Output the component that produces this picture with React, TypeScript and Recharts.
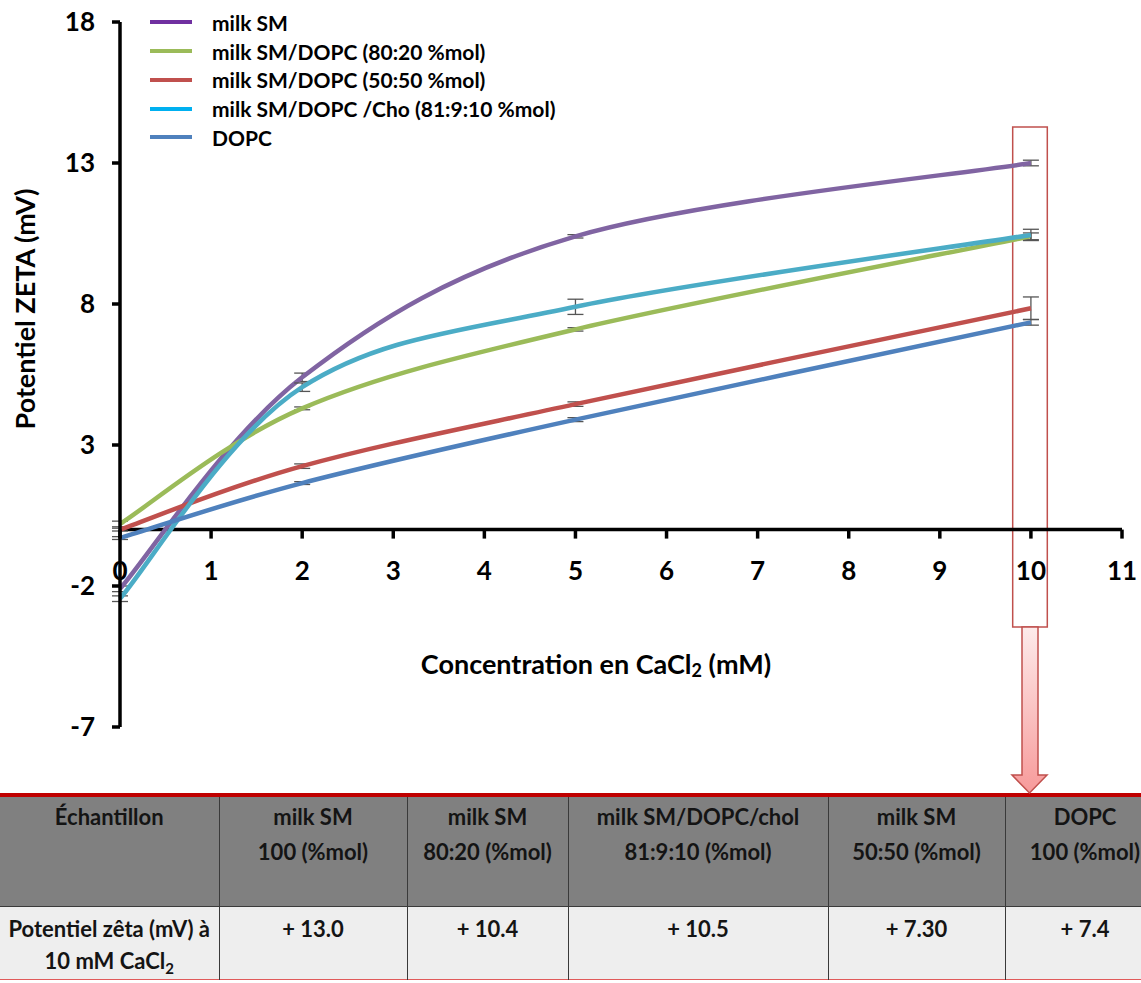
import React from 'react';
import { LineChart, Line, XAxis, YAxis, ErrorBar, ReferenceLine, ReferenceArea, Legend } from 'recharts';

// ---------- data ----------
const concentrations = [0, 2, 5, 10];
const milkSM = [-2.1, 5.4, 10.4, 13.0];
const milkSMErr = [0.1, 0.15, 0.06, 0.1];
const sm8020 = [0.2, 4.3, 7.1, 10.4];
const sm8020Err = [0.1, 0.05, 0.06, 0.12];
const sm5050 = [0.0, 2.25, 4.45, 7.85];
const sm5050Err = [0.05, 0.08, 0.08, 0.4];
const smCho = [-2.45, 5.05, 7.9, 10.45];
const smChoErr = [0.1, 0.15, 0.27, 0.2];
const dopc = [-0.3, 1.65, 3.9, 7.35];
const dopcErr = [0.05, 0.05, 0.07, 0.1];

const xTicks = [0, 1, 2, 3, 4, 5, 6, 7, 8, 9, 10, 11];
const yTicks = [-7, -2, 3, 8, 13, 18];

const seriesNames = [
  'milk SM',
  'milk SM/DOPC (80:20 %mol)',
  'milk SM/DOPC (50:50 %mol)',
  'milk SM/DOPC /Cho (81:9:10 %mol)',
  'DOPC',
];
const seriesKeys = ['milkSM', 'sm8020', 'sm5050', 'smCho', 'dopc'];
const seriesValues = [milkSM, sm8020, sm5050, smCho, dopc];
const seriesErrors = [milkSMErr, sm8020Err, sm5050Err, smChoErr, dopcErr];

const tableHeaderFirst = 'Échantillon';
const tableHeaders = [
  ['milk SM', '100 (%mol)'],
  ['milk SM', '80:20 (%mol)'],
  ['milk SM/DOPC/chol', '81:9:10 (%mol)'],
  ['milk SM', '50:50 (%mol)'],
  ['DOPC', '100 (%mol)'],
];
const tableValues = ['+ 13.0', '+ 10.4', '+ 10.5', '+ 7.30', '+ 7.4'];

// highlighted region around 10 mM
const highlightX = [9.8, 10.18];
const highlightY = [-3.45, 14.28];

// ---------- styles ----------
const lineColors = ['#8064A2', '#9BBB59', '#C0504D', '#4BACC6', '#4F81BD'];
const legendColors = ['#7030A0', '#9BBB59', '#C0504D', '#00B0F0', '#4F81BD'];

const CHART_W = 1141;
const CHART_H = 760;
const X_AXIS_H = 30;
const MARGIN = { top: 22, right: 19, left: 0, bottom: 3 };
const Y_AXIS_W = 120;
const Y_MIN = -7;
const Y_MAX = 18;
const PLOT_H = CHART_H - MARGIN.top - MARGIN.bottom - X_AXIS_H;
const ZERO_Y = MARGIN.top + ((Y_MAX - 0) / (Y_MAX - Y_MIN)) * PLOT_H;

const FONT = 'Lato, "Open Sans", sans-serif';

const data = concentrations.map((c, i) => {
  const row: Record<string, number> = { c };
  seriesKeys.forEach((k, s) => {
    row[k] = seriesValues[s][i];
    row[k + 'Err'] = seriesErrors[s][i];
  });
  return row;
});

// Excel-like smoothed line (Catmull-Rom style bezier)
const excelSmooth = (context: any) => {
  let pts: number[][] = [];
  return {
    areaStart() {},
    areaEnd() {},
    lineStart() {
      pts = [];
    },
    lineEnd() {
      const n = pts.length;
      if (!n) return;
      context.moveTo(pts[0][0], pts[0][1]);
      for (let i = 0; i < n - 1; i++) {
        const p0 = pts[i - 1] || pts[i];
        const p1 = pts[i];
        const p2 = pts[i + 1];
        const p3 = pts[i + 2] || pts[i + 1];
        context.bezierCurveTo(
          p1[0] + (p2[0] - p0[0]) / 6,
          p1[1] + (p2[1] - p0[1]) / 6,
          p2[0] - (p3[0] - p1[0]) / 6,
          p2[1] - (p3[1] - p1[1]) / 6,
          p2[0],
          p2[1]
        );
      }
    },
    point(x: number, y: number) {
      pts.push([+x, +y]);
    },
  };
};

const XTick = (props: any) => {
  const { x, payload } = props;
  return (
    <g>
      <line x1={x} x2={x} y1={ZERO_Y} y2={ZERO_Y + 9} stroke="#000" strokeWidth={3.5} />
      <text
        x={x}
        y={ZERO_Y + 40}
        textAnchor="middle"
        dominantBaseline="central"
        fontSize={26}
        fontWeight={700}
        fill="#000"
        fontFamily={FONT}
      >
        {payload.value}
      </text>
    </g>
  );
};

const renderLegend = () => (
  <div style={{ fontFamily: FONT }}>
    {seriesNames.map((name, i) => (
      <div key={name} style={{ display: 'flex', alignItems: 'center', height: 28.75 }}>
        <div style={{ width: 42, height: 4, background: legendColors[i], marginRight: 20 }} />
        <span style={{ fontSize: 21, fontWeight: 700, color: '#000', whiteSpace: 'nowrap' }}>{name}</span>
      </div>
    ))}
  </div>
);

const cellBorder = '1.5px solid #3a3a3a';

export default function App() {
  return (
    <div
      style={{
        position: 'absolute',
        left: 0,
        top: 0,
        width: 1141,
        height: 983,
        overflow: 'hidden',
        background: '#fff',
        fontFamily: FONT,
      }}
    >
      <div style={{ position: 'absolute', left: 0, top: 0 }}>
        <LineChart width={CHART_W} height={CHART_H} data={data} margin={MARGIN}>
          <XAxis
            dataKey="c"
            type="number"
            domain={[0, 11]}
            ticks={xTicks}
            height={X_AXIS_H}
            axisLine={false}
            tickLine={false}
            tick={(p: any) => <XTick {...p} />}
            interval={0}
          />
          <YAxis
            type="number"
            domain={[Y_MIN, Y_MAX]}
            ticks={yTicks}
            width={Y_AXIS_W}
            axisLine={{ stroke: '#000', strokeWidth: 3.5 }}
            tickLine={{ stroke: '#000', strokeWidth: 3.5 }}
            tickSize={8}
            tickMargin={17}
            tick={{ fontSize: 26, fontWeight: 700, fill: '#000', fontFamily: FONT }}
            interval={0}
          />
          <ReferenceArea
            x1={highlightX[0]}
            x2={highlightX[1]}
            y1={highlightY[0]}
            y2={highlightY[1]}
            fill="#ffffff"
            fillOpacity={0}
            stroke="#C0504D"
            strokeWidth={1.5}
            ifOverflow="visible"
          />
          <ReferenceLine y={0} stroke="#000" strokeWidth={3.5} />
          <Legend
            content={renderLegend}
            layout="horizontal"
            verticalAlign="middle"
            align="center"
            wrapperStyle={{ position: 'absolute', top: 8, left: 150, width: 560, height: 150 }}
          />
          {seriesKeys.map((k, i) => (
            <Line
              key={k}
              dataKey={k}
              name={seriesNames[i]}
              type={excelSmooth as any}
              stroke={lineColors[i]}
              strokeWidth={4.5}
              dot={false}
              activeDot={false}
              isAnimationActive={false}
            >
              <ErrorBar dataKey={k + 'Err'} width={8} stroke="#555" strokeWidth={1.3} direction="y" />
            </Line>
          ))}
          <text
            x={24}
            y={309}
            transform="rotate(-90 24 309)"
            textAnchor="middle"
            dominantBaseline="central"
            fontSize={27}
            fontWeight={700}
            fill="#000"
            fontFamily={FONT}
          >
            Potentiel ZETA (mV)
          </text>
          <text
            x={596}
            y={663}
            textAnchor="middle"
            dominantBaseline="central"
            fontSize={27}
            fontWeight={700}
            fill="#000"
            fontFamily={FONT}
          >
            <tspan>Concentration en CaCl</tspan>
            <tspan dy={7} fontSize={18}>2</tspan>
            <tspan dy={-7}> (mM)</tspan>
          </text>
        </LineChart>
      </div>

      {/* arrow from highlighted region to table */}
      <svg
        width={1141}
        height={983}
        style={{ position: 'absolute', left: 0, top: 0, pointerEvents: 'none', zIndex: 2 }}
      >
        <defs>
          <linearGradient id="arrowGrad" x1="0" y1="0" x2="0" y2="1">
            <stop offset="0%" stopColor="#FDEBEB" />
            <stop offset="100%" stopColor="#F79A9A" />
          </linearGradient>
        </defs>
        <path
          d="M1022,627 L1038,627 L1038,775 L1047,775 L1029.5,793 L1012,775 L1022,775 Z"
          fill="url(#arrowGrad)"
          stroke="#C0504D"
          strokeWidth={1.5}
        />
      </svg>

      {/* table */}
      <div style={{ position: 'absolute', left: 0, top: 793, width: 1141, overflow: 'hidden', zIndex: 1 }}>
        <table
          style={{
            borderCollapse: 'collapse',
            width: 1165,
            tableLayout: 'fixed',
            borderTop: '4px solid #C00000',
            borderBottom: '1.5px solid #E05A5A',
            fontFamily: FONT,
            fontWeight: 700,
            fontSize: 22,
            color: '#141414',
          }}
        >
          <colgroup>
            <col style={{ width: 219 }} />
            <col style={{ width: 188 }} />
            <col style={{ width: 161 }} />
            <col style={{ width: 260 }} />
            <col style={{ width: 177 }} />
            <col style={{ width: 160 }} />
          </colgroup>
          <tbody>
            <tr style={{ background: '#808080', height: 111 }}>
              <td
                style={{
                  verticalAlign: 'top',
                  textAlign: 'center',
                  lineHeight: '35px',
                  paddingTop: 2,
                  borderRight: cellBorder,
                  borderBottom: cellBorder,
                }}
              >
                {tableHeaderFirst}
              </td>
              {tableHeaders.map((h, i) => (
                <td
                  key={i}
                  style={{
                    verticalAlign: 'top',
                    textAlign: 'center',
                    lineHeight: '35px',
                    paddingTop: 2,
                    borderLeft: cellBorder,
                    borderRight: cellBorder,
                    borderBottom: cellBorder,
                    whiteSpace: 'nowrap',
                  }}
                >
                  {h[0]}
                  <br />
                  {h[1]}
                </td>
              ))}
            </tr>
            <tr style={{ background: '#EEEEEE', height: 73 }}>
              <td
                style={{
                  verticalAlign: 'top',
                  textAlign: 'center',
                  lineHeight: '32px',
                  paddingTop: 6,
                  borderRight: cellBorder,
                  whiteSpace: 'nowrap',
                }}
              >
                Potentiel zêta (mV) à
                <br />
                10 mM CaCl<sub style={{ fontSize: 15, lineHeight: 0 }}>2</sub>
              </td>
              {tableValues.map((v, i) => (
                <td
                  key={i}
                  style={{
                    verticalAlign: 'top',
                    textAlign: 'center',
                    lineHeight: '32px',
                    paddingTop: 6,
                    borderLeft: cellBorder,
                    borderRight: cellBorder,
                  }}
                >
                  {v}
                </td>
              ))}
            </tr>
          </tbody>
        </table>
      </div>
    </div>
  );
}
